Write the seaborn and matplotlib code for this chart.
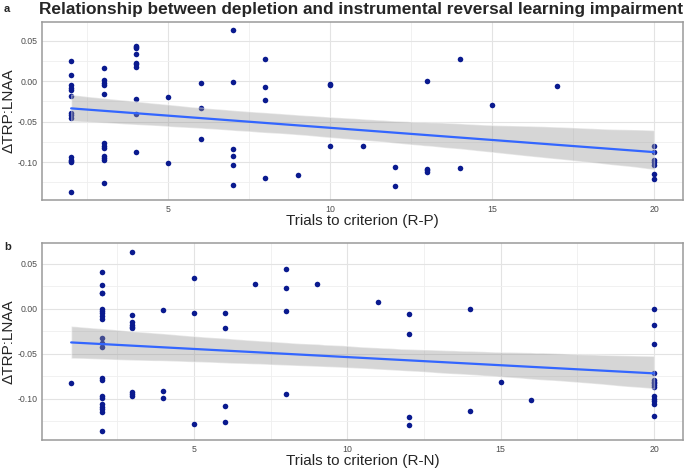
import matplotlib
matplotlib.use("Agg")
import matplotlib.pyplot as plt
import seaborn as sns
import pandas as pd
from matplotlib.ticker import MultipleLocator, FormatStrFormatter

# panel a: trials to criterion for reversal R-P, with the dTRP:LNAA values at each count
rp_trials = [2, 3, 4, 5, 6, 7, 8, 9, 10, 11, 12, 13, 14, 15, 17, 20]
rp_delta = [
    [0.025, 0.008, -0.005, -0.008, -0.011, -0.018, -0.039, -0.042, -0.045,
     -0.094, -0.097, -0.099, -0.100, -0.137],
    [0.017, 0.001, -0.002, -0.005, -0.016, -0.077, -0.080, -0.083, -0.093,
     -0.095, -0.097, -0.126],
    [0.044, 0.042, 0.041, 0.034, 0.023, 0.021, 0.018, -0.022, -0.040, -0.088],
    [-0.019, -0.101],
    [-0.002, -0.033, -0.072],
    [0.063, -0.001, -0.084, -0.093, -0.103, -0.128],
    [0.027, -0.007, -0.023, -0.120],
    [-0.116],
    [-0.003, -0.005, -0.080],
    [-0.080],
    [-0.106, -0.130],
    [0.000, -0.109, -0.110, -0.112],
    [0.027, -0.107],
    [-0.029],
    [-0.006],
    [-0.080, -0.087, -0.097, -0.100, -0.103, -0.115, -0.121],
]

# panel b: reversal R-N
rn_trials = [1, 2, 3, 4, 5, 6, 7, 8, 9, 11, 12, 14, 15, 16, 20]
rn_delta = [
    [-0.083],
    [0.041, 0.026, 0.018, 0.017, 0.000, -0.003, -0.005, -0.008, -0.011,
     -0.033, -0.038, -0.043, -0.077, -0.079, -0.097, -0.099, -0.106, -0.109,
     -0.112, -0.115, -0.136],
    [0.063, -0.007, -0.015, -0.018, -0.020, -0.022, -0.093, -0.095, -0.097],
    [-0.002, -0.092, -0.099],
    [0.034, -0.005, -0.128],
    [-0.005, -0.022, -0.108, -0.126],
    [0.028],
    [0.044, 0.023, -0.003, -0.095],
    [0.027],
    [0.008],
    [-0.006, -0.028, -0.120, -0.129],
    [0.000, -0.114],
    [-0.082],
    [-0.102],
    [0.000, -0.018, -0.039, -0.071, -0.079, -0.081, -0.083, -0.085, -0.087,
     -0.097, -0.101, -0.103, -0.106, -0.119],
]

title = "Relationship between depletion and instrumental reversal learning impairment"
ylabel = "\u0394TRP:LNAA"

POINT = "#0A1A8F"
LINE = "#3366FF"


def to_frame(trials, values):
    rows = [(t, v) for t, vs in zip(trials, values) for v in vs]
    return pd.DataFrame(rows, columns=["trials", "delta"])


def draw_panel(ax, df, xlabel):
    sns.scatterplot(data=df, x="trials", y="delta", ax=ax, color=POINT,
                    s=16, linewidth=0, zorder=3)
    sns.regplot(data=df, x="trials", y="delta", ax=ax, scatter=False,
                color=LINE, seed=3, line_kws={"lw": 1.6, "zorder": 5})
    # ggplot-like grey ribbon instead of the tinted one
    band = ax.collections[-1]
    band.set_facecolor("#999999")
    band.set_alpha(0.4)
    band.set_zorder(4)

    ax.margins(x=0.05, y=0.05)
    ax.xaxis.set_major_locator(MultipleLocator(5))
    ax.xaxis.set_minor_locator(MultipleLocator(2.5))
    ax.yaxis.set_major_locator(MultipleLocator(0.05))
    ax.yaxis.set_minor_locator(MultipleLocator(0.025))
    ax.yaxis.set_major_formatter(FormatStrFormatter("%.2f"))
    ax.grid(which="major", color="#E3E3E3", lw=0.8)
    ax.grid(which="minor", color="#EFEFEF", lw=0.6)
    ax.set_axisbelow(True)
    ax.tick_params(which="major", length=2, width=0.6, color="#333333",
                   labelsize=6.3, labelcolor="#4D4D4D", pad=1.5)
    ax.tick_params(which="minor", length=0)
    for sp in ax.spines.values():
        sp.set_visible(True)
        sp.set_color("#9A9A9A")
        sp.set_linewidth(1.1)
    ax.set_xlabel(xlabel, fontsize=11, labelpad=0)
    ax.set_ylabel(ylabel, fontsize=11)
    ax.yaxis.set_label_coords(-0.042, 0.5)


sns.set_style("white")
plt.rcParams["font.family"] = ["Liberation Sans", "DejaVu Sans"]
plt.rcParams["axes.unicode_minus"] = False

fig = plt.figure(figsize=(6.85, 4.73), dpi=100)
ax_a = fig.add_axes([0.0613, 0.577, 0.936, 0.376])
ax_b = fig.add_axes([0.0613, 0.070, 0.936, 0.416])

draw_panel(ax_a, to_frame(rp_trials, rp_delta), "Trials to criterion (R-P)")
draw_panel(ax_b, to_frame(rn_trials, rn_delta), "Trials to criterion (R-N)")

fig.text(0.057, 0.979, title, fontsize=12.4, fontweight="bold", va="center")
fig.text(0.006, 0.981, "a", fontsize=8, fontweight="bold", va="center")
fig.text(0.006, 0.478, "b", fontsize=8, fontweight="bold", va="center")

fig.savefig("out.png", dpi=100)
